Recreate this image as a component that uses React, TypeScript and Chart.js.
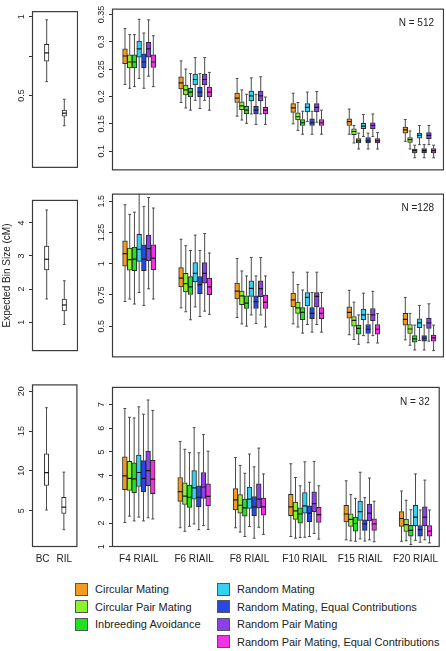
import React, { useEffect, useRef } from 'react';
import { Chart, registerables } from 'chart.js';

Chart.register(...registerables);

type Box = number[]; // [lower whisker, Q1, median, Q3, upper whisker]

const generations = ['F4 RIAIL', 'F6 RIAIL', 'F8 RIAIL', 'F10 RIAIL', 'F15 RIAIL', 'F20 RIAIL'];
const baselines = ['BC', 'RIL'];
const seriesNames = [
  'Circular Mating',
  'Circular Pair Mating',
  'Inbreeding Avoidance',
  'Random Mating',
  'Random Mating, Equal Contributions',
  'Random Pair Mating',
  'Random Pair Mating, Equal Contributions',
];
const seriesColors = ['#F39A1F', '#8CF22A', '#22E022', '#33D2F0', '#2848E2', '#8A40EA', '#F032E4'];
const panelNotes = ['N = 512', 'N =128', 'N = 32'];
const yAxisTitle = 'Expected Bin Size (cM)';

// ---- N = 512 ----
const n512Baseline: Box[] = [[0.588, 0.718, 0.77, 0.825, 0.98], [0.308, 0.369, 0.388, 0.408, 0.476]];
const n512CM: Box[] = [[0.222, 0.26, 0.274, 0.287, 0.324], [0.189, 0.214, 0.225, 0.236, 0.265], [0.164, 0.189, 0.197, 0.206, 0.233], [0.15, 0.171, 0.179, 0.187, 0.206], [0.131, 0.147, 0.154, 0.159, 0.177], [0.118, 0.133, 0.139, 0.144, 0.158]];
const n512CPM: Box[] = [[0.215, 0.252, 0.263, 0.276, 0.313], [0.179, 0.203, 0.212, 0.221, 0.25], [0.157, 0.176, 0.183, 0.19, 0.212], [0.138, 0.157, 0.163, 0.17, 0.189], [0.115, 0.13, 0.136, 0.141, 0.147], [0.104, 0.116, 0.121, 0.125, 0.137]];
const n512IA: Box[] = [[0.218, 0.252, 0.263, 0.276, 0.313], [0.175, 0.199, 0.208, 0.215, 0.242], [0.151, 0.168, 0.175, 0.182, 0.204], [0.131, 0.147, 0.152, 0.158, 0.173], [0.104, 0.115, 0.119, 0.123, 0.133], [0.088, 0.097, 0.101, 0.104, 0.111]];
const n512RM: Box[] = [[0.233, 0.272, 0.287, 0.301, 0.341], [0.193, 0.221, 0.231, 0.241, 0.271], [0.168, 0.192, 0.201, 0.21, 0.234], [0.154, 0.172, 0.18, 0.187, 0.208], [0.127, 0.141, 0.146, 0.151, 0.167], [0.112, 0.124, 0.129, 0.133, 0.147]];
const n512RMEC: Box[] = [[0.215, 0.252, 0.263, 0.278, 0.316], [0.178, 0.199, 0.208, 0.217, 0.242], [0.149, 0.168, 0.175, 0.182, 0.204], [0.131, 0.147, 0.152, 0.159, 0.173], [0.104, 0.115, 0.119, 0.125, 0.133], [0.088, 0.097, 0.101, 0.105, 0.112]];
const n512RPM: Box[] = [[0.237, 0.272, 0.287, 0.299, 0.34], [0.193, 0.221, 0.231, 0.241, 0.271], [0.168, 0.192, 0.201, 0.21, 0.236], [0.153, 0.172, 0.18, 0.187, 0.209], [0.127, 0.141, 0.147, 0.152, 0.168], [0.112, 0.123, 0.129, 0.134, 0.147]];
const n512RPMEC: Box[] = [[0.218, 0.253, 0.263, 0.276, 0.311], [0.175, 0.199, 0.208, 0.217, 0.244], [0.149, 0.168, 0.175, 0.18, 0.199], [0.131, 0.147, 0.152, 0.158, 0.175], [0.104, 0.115, 0.119, 0.123, 0.134], [0.088, 0.097, 0.101, 0.105, 0.111]];

// ---- N = 128 ----
const n128Baseline: Box[] = [[1.7, 2.58, 2.9, 3.3, 4.39], [0.93, 1.34, 1.52, 1.7, 2.25]];
const n128CM: Box[] = [[0.697, 0.981, 1.08, 1.183, 1.472], [0.646, 0.815, 0.884, 0.968, 1.196], [0.569, 0.717, 0.781, 0.845, 1.042], [0.518, 0.654, 0.71, 0.764, 0.932], [0.431, 0.564, 0.61, 0.654, 0.787], [0.39, 0.508, 0.554, 0.602, 0.73]];
const n128CPM: Box[] = [[0.717, 0.948, 1.032, 1.126, 1.395], [0.615, 0.774, 0.84, 0.922, 1.144], [0.518, 0.672, 0.743, 0.781, 0.942], [0.493, 0.602, 0.646, 0.692, 0.833], [0.393, 0.5, 0.546, 0.577, 0.692], [0.347, 0.441, 0.477, 0.513, 0.602]];
const n128IA: Box[] = [[0.677, 0.945, 1.037, 1.134, 1.413], [0.551, 0.753, 0.815, 0.896, 1.106], [0.5, 0.641, 0.684, 0.743, 0.902], [0.444, 0.551, 0.61, 0.648, 0.789], [0.355, 0.436, 0.482, 0.508, 0.59], [0.309, 0.372, 0.398, 0.424, 0.508]];
const n128RM: Box[] = [[0.769, 1.019, 1.114, 1.236, 1.6], [0.654, 0.856, 0.922, 1.009, 1.229], [0.59, 0.738, 0.802, 0.863, 1.05], [0.513, 0.661, 0.73, 0.769, 0.932], [0.424, 0.551, 0.59, 0.636, 0.764], [0.385, 0.488, 0.526, 0.559, 0.666]];
const n128RMEC: Box[] = [[0.666, 0.945, 1.037, 1.152, 1.459], [0.577, 0.761, 0.833, 0.896, 1.106], [0.521, 0.641, 0.697, 0.743, 0.902], [0.452, 0.559, 0.602, 0.648, 0.769], [0.367, 0.441, 0.475, 0.513, 0.595], [0.309, 0.38, 0.403, 0.424, 0.508]];
const n128RPM: Box[] = [[0.799, 1.024, 1.121, 1.229, 1.53], [0.62, 0.845, 0.922, 1.009, 1.242], [0.59, 0.735, 0.8, 0.863, 1.05], [0.513, 0.654, 0.738, 0.769, 0.932], [0.424, 0.544, 0.59, 0.641, 0.779], [0.38, 0.482, 0.526, 0.564, 0.679]];
const n128RPMEC: Box[] = [[0.717, 0.953, 1.045, 1.152, 1.446], [0.595, 0.751, 0.815, 0.884, 1.086], [0.493, 0.641, 0.692, 0.748, 0.902], [0.452, 0.559, 0.602, 0.648, 0.769], [0.365, 0.436, 0.475, 0.513, 0.6], [0.304, 0.38, 0.406, 0.429, 0.508]];

// ---- N = 32 ----
const n32Baseline: Box[] = [[5.08, 8.16, 9.77, 12.13, 17.94], [2.6, 4.64, 5.44, 6.68, 9.84]];
const n32CM: Box[] = [[2.02, 3.41, 3.99, 4.79, 6.83], [1.8, 2.91, 3.32, 3.92, 5.44], [1.8, 2.55, 2.98, 3.45, 4.76], [1.43, 2.31, 2.68, 3.21, 4.5], [1.29, 2.05, 2.38, 2.75, 3.78], [1.23, 1.86, 2.19, 2.48, 3.35]];
const n32CPM: Box[] = [[2.29, 3.37, 3.88, 4.6, 6.46], [1.65, 2.78, 3.13, 3.7, 5.11], [1.62, 2.42, 2.75, 3.2, 4.43], [1.36, 2.15, 2.51, 2.88, 3.92], [1.25, 1.86, 2.15, 2.39, 3.2], [1.25, 1.65, 1.93, 2.17, 2.96]];
const n32IA: Box[] = [[2.09, 3.28, 3.86, 4.54, 6.43], [1.86, 2.66, 3.08, 3.6, 4.97], [1.43, 2.29, 2.64, 3.01, 4.1], [1.39, 1.99, 2.38, 2.64, 3.57], [1.23, 1.66, 1.98, 2.25, 3.04], [1.09, 1.45, 1.69, 1.9, 2.56]];
const n32RM: Box[] = [[2.25, 3.54, 4.13, 4.87, 6.9], [1.96, 3.01, 3.48, 4.21, 6.02], [1.85, 2.62, 3.01, 3.52, 4.91], [1.4, 2.42, 2.72, 3.28, 4.58], [1.33, 2.11, 2.48, 2.92, 4.14], [1.27, 1.89, 2.25, 2.75, 4.07]];
const n32RMEC: Box[] = [[2.09, 3.32, 3.88, 4.63, 6.59], [1.72, 2.68, 3.08, 3.57, 4.96], [1.36, 2.31, 2.68, 3.12, 4.37], [1.43, 2.06, 2.42, 2.72, 3.72], [1.24, 1.69, 1.96, 2.13, 3.07], [1.19, 1.45, 1.72, 1.89, 2.55]];
const n32RPM: Box[] = [[2.22, 3.57, 4.21, 5.03, 7.19], [1.89, 3.04, 3.52, 4.13, 5.73], [1.82, 2.64, 3.01, 3.65, 5.16], [1.56, 2.48, 2.82, 3.32, 4.6], [1.29, 2.09, 2.42, 2.8, 3.9], [1.29, 1.89, 2.25, 2.68, 3.81]];
const n32RPMEC: Box[] = [[2.17, 3.24, 3.85, 4.64, 6.75], [1.73, 2.72, 3.12, 3.65, 5.03], [1.52, 2.33, 2.68, 3.05, 4.07], [1.32, 2.02, 2.35, 2.66, 3.57], [1.21, 1.69, 1.96, 2.18, 2.92], [1.16, 1.45, 1.66, 1.89, 2.55]];

// ---- axis ticks ----
const yTicksLeft512 = [0.5, 0.75, 1];
const yTickLabelsLeft512 = ['0.5', '', '1'];
const yTicksRight512 = [0.1, 0.15, 0.2, 0.25, 0.3, 0.35];
const yTicksLeft128 = [1, 2, 3, 4];
const yTicksRight128 = [0.5, 0.75, 1, 1.25, 1.5];
const yTicksLeft32 = [5, 10, 15, 20];
const yTicksRight32 = [1, 2, 3, 4, 5, 6, 7];
const yRangesLeft = [[0.041, 1.035], [0.126, 4.695], [0.43, 20.87]];
const yRangesRight = [[0.065, 0.3605], [0.25, 1.561], [0.988, 7.742]];

const baselineX = [1, 2];
const baselineLabelX = [0.775, 2.02];
const seriesStep = 0.0842;

const FONT = 'Liberation Sans';

interface Group { color: string; xs: number[]; boxes: Box[] }
interface PanelSpec {
  left: number; top: number; width: number; height: number;
  axisW: number; axisH: number;
  xRange: number[]; yRange: number[];
  yTicks: number[]; yTickLabels: string[];
  xTicks: number[]; xTickLabels: string[]; showX: boolean;
  groups: Group[]; boxWidth: number;
  note?: string; yTitle?: string;
}

const rowTops = [5, 190, 377];
const rowHeights = [169, 171, 170];
const rightSeries = [
  [n512CM, n512CPM, n512IA, n512RM, n512RMEC, n512RPM, n512RPMEC],
  [n128CM, n128CPM, n128IA, n128RM, n128RMEC, n128RPM, n128RPMEC],
  [n32CM, n32CPM, n32IA, n32RM, n32RMEC, n32RPM, n32RPMEC],
];
const leftBoxes = [n512Baseline, n128Baseline, n32Baseline];
const leftTicks = [yTicksLeft512, yTicksLeft128, yTicksLeft32];
const leftTickLabels = [yTickLabelsLeft512, yTicksLeft128.map(String), yTicksLeft32.map(String)];
const rightTicks = [yTicksRight512, yTicksRight128, yTicksRight32];

const specs: PanelSpec[] = [];
for (let r = 0; r < 3; r++) {
  const last = r === 2;
  specs.push({
    left: 32, top: rowTops[r], width: 46, height: rowHeights[r], axisW: 32, axisH: last ? 20 : 0,
    xRange: [0.165, 2.779], yRange: yRangesLeft[r],
    yTicks: leftTicks[r], yTickLabels: leftTickLabels[r],
    xTicks: baselineLabelX, xTickLabels: baselines, showX: last,
    groups: [{ color: '#ffffff', xs: baselineX, boxes: leftBoxes[r] }],
    boxWidth: 4.5,
    yTitle: r === 1 ? yAxisTitle : undefined,
  });
  specs.push({
    left: 112, top: rowTops[r], width: 332, height: rowHeights[r], axisW: 30, axisH: last ? 20 : 0,
    xRange: [-0.4845, 5.4378], yRange: yRangesRight[r],
    yTicks: rightTicks[r], yTickLabels: rightTicks[r].map(String),
    xTicks: generations.map((_, g) => g), xTickLabels: generations, showX: last,
    groups: rightSeries[r].map((boxes, s) => ({
      color: seriesColors[s],
      xs: generations.map((_, g) => g + (s - 3) * seriesStep),
      boxes,
    })),
    boxWidth: 4.72,
    note: panelNotes[r],
  });
}

function Panel({ spec }: { spec: PanelSpec }) {
  const ref = useRef<HTMLCanvasElement>(null);
  useEffect(() => {
    const canvas = ref.current;
    if (!canvas) return;
    const tickSize = 9;
    const meas = document.createElement('canvas').getContext('2d')!;
    meas.font = `${tickSize}px ${FONT}`;
    const widest = Math.max(...spec.yTickLabels.map((l) => meas.measureText(l).width));
    const tickLen = 3;
    const pad = 10 - tickLen - widest / 2;

    const plugin = {
      id: 'boxplotParts',
      beforeDatasetsDraw(chart: any) {
        const { ctx, chartArea: a, scales } = chart;
        const xs = scales.x, ys = scales.y;
        ctx.save();
        ctx.beginPath();
        ctx.rect(a.left, a.top, a.right - a.left, a.bottom - a.top);
        ctx.clip();
        ctx.strokeStyle = '#4a4a4a';
        ctx.lineWidth = 1;
        const cap = spec.boxWidth * 0.3;
        spec.groups.forEach((g) => g.boxes.forEach((b, i) => {
          const cx = xs.getPixelForValue(g.xs[i]);
          const yLo = ys.getPixelForValue(b[0]);
          const yQ1 = ys.getPixelForValue(b[1]);
          const yQ3 = ys.getPixelForValue(b[3]);
          const yHi = ys.getPixelForValue(b[4]);
          ctx.beginPath();
          ctx.moveTo(cx, yLo); ctx.lineTo(cx, yQ1);
          ctx.moveTo(cx, yQ3); ctx.lineTo(cx, yHi);
          ctx.moveTo(cx - cap, yLo); ctx.lineTo(cx + cap, yLo);
          ctx.moveTo(cx - cap, yHi); ctx.lineTo(cx + cap, yHi);
          ctx.stroke();
        }));
        ctx.restore();
      },
      afterDatasetsDraw(chart: any) {
        const { ctx, chartArea: a, scales } = chart;
        const xs = scales.x, ys = scales.y;
        ctx.save();
        ctx.beginPath();
        ctx.rect(a.left, a.top, a.right - a.left, a.bottom - a.top);
        ctx.clip();
        ctx.strokeStyle = '#1a1a1a';
        ctx.lineWidth = 1.2;
        const hw = spec.boxWidth / 2;
        spec.groups.forEach((g) => g.boxes.forEach((b, i) => {
          const cx = xs.getPixelForValue(g.xs[i]);
          const ym = ys.getPixelForValue(b[2]);
          ctx.beginPath();
          ctx.moveTo(cx - hw, ym); ctx.lineTo(cx + hw, ym);
          ctx.stroke();
        }));
        ctx.restore();
      },
      afterDraw(chart: any) {
        const { ctx, chartArea: a } = chart;
        ctx.save();
        ctx.strokeStyle = '#3a3a3a';
        ctx.lineWidth = 1.2;
        ctx.strokeRect(a.left + 0.5, a.top + 0.5, a.right - a.left - 1, a.bottom - a.top - 1);
        if (spec.note) {
          ctx.fillStyle = '#222';
          ctx.font = `10px ${FONT}`;
          ctx.textAlign = 'right';
          ctx.textBaseline = 'middle';
          ctx.fillText(spec.note, a.right - 10, a.top + 15);
        }
        ctx.restore();
      },
    };

    const chart = new Chart(canvas, {
      type: 'bar',
      data: {
        datasets: spec.groups.map((g, s) => ({
          label: seriesNames[s] || 'baseline',
          data: g.boxes.map((b, i) => ({ x: g.xs[i], y: [b[1], b[3]] })) as any,
          backgroundColor: g.color,
          borderColor: '#2a2a2a',
          borderWidth: 1,
          borderSkipped: false,
          barThickness: spec.boxWidth,
          grouped: false,
          order: -s,
        })),
      },
      options: {
        animation: false,
        responsive: false,
        maintainAspectRatio: false,
        events: [],
        layout: { padding: 0, autoPadding: false },
        plugins: { legend: { display: false }, tooltip: { enabled: false } },
        scales: {
          x: {
            type: 'linear',
            min: spec.xRange[0],
            max: spec.xRange[1],
            offset: false,
            display: spec.showX,
            afterBuildTicks: (s: any) => { s.ticks = spec.xTicks.map((v) => ({ value: v })); },
            afterFit: (s: any) => { s.height = spec.axisH; },
            grid: { display: false, drawTicks: false },
            border: { display: false },
            ticks: {
              autoSkip: false, minRotation: 0, maxRotation: 0, padding: 6,
              font: { family: FONT, size: 10 }, color: '#222',
              callback: (_v: any, i: number) => spec.xTickLabels[i],
            },
          },
          y: {
            type: 'linear',
            position: 'left',
            min: spec.yRange[0],
            max: spec.yRange[1],
            afterBuildTicks: (s: any) => { s.ticks = spec.yTicks.map((v) => ({ value: v })); },
            afterFit: (s: any) => { s.width = spec.axisW; },
            grid: { drawOnChartArea: false, drawTicks: true, tickLength: tickLen, color: '#333', lineWidth: 1 },
            border: { display: false },
            ticks: {
              autoSkip: false, minRotation: 90, maxRotation: 90, crossAlign: 'center', padding: pad,
              font: { family: FONT, size: tickSize }, color: '#222',
              callback: (_v: any, i: number) => spec.yTickLabels[i],
            },
            title: spec.yTitle
              ? { display: true, text: spec.yTitle, color: '#222', font: { family: FONT, size: 10 }, padding: { top: 1.5, bottom: 0 } }
              : { display: false },
          },
        },
      } as any,
      plugins: [plugin],
    });
    return () => chart.destroy();
  }, [spec]);
  return (
    <canvas
      ref={ref}
      width={spec.axisW + spec.width}
      height={spec.height + spec.axisH}
      style={{ position: 'absolute', left: spec.left - spec.axisW, top: spec.top }}
    />
  );
}

function Legend() {
  const cols = [[0, 1, 2], [3, 4, 5, 6]];
  const colX = [75, 217];
  const rowY = (r: number) => 589 + r * 17.6;
  return (
    <>
      {cols.map((col, c) =>
        col.map((s, r) => (
          <React.Fragment key={s}>
            <div
              style={{
                position: 'absolute', left: colX[c], top: rowY(r) - 6.5, width: 13, height: 13,
                boxSizing: 'border-box', border: '1px solid #555', background: seriesColors[s],
              }}
            />
            <div
              style={{
                position: 'absolute', left: colX[c] + 20, top: rowY(r) - 7, height: 14, lineHeight: '14px',
                fontFamily: FONT, fontSize: 11, color: '#222', whiteSpace: 'nowrap',
              }}
            >
              {seriesNames[s]}
            </div>
          </React.Fragment>
        ))
      )}
    </>
  );
}

export default function App() {
  return (
    <div style={{ position: 'fixed', left: 0, top: 0, width: 446, height: 651, background: '#fff', overflow: 'hidden' }}>
      {specs.map((spec, i) => <Panel key={i} spec={spec} />)}
      <Legend />
    </div>
  );
}
